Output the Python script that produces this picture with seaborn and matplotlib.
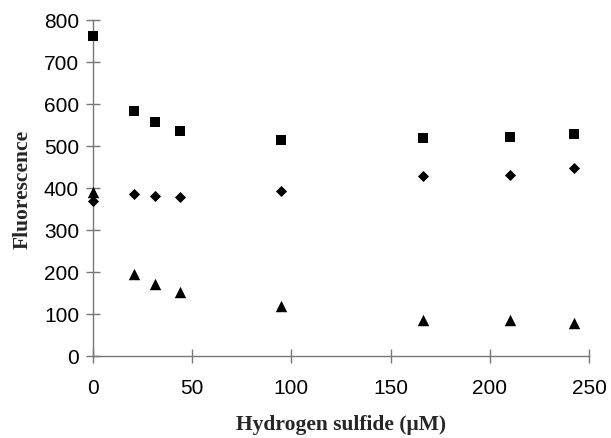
import matplotlib
matplotlib.use("Agg")
import matplotlib.pyplot as plt
import seaborn as sns
import pandas as pd

h2s = [0, 20.8, 31.2, 43.6, 94.8, 166.3, 210.0, 242.4]
squares = [761, 584, 556, 536, 514, 518, 522, 528]
diamonds = [370, 386, 380, 379, 394, 429, 432, 447]
triangles = [390, 195, 171, 153, 118, 86, 86, 78]

x_ticks = [0, 50, 100, 150, 200, 250]
y_ticks = [0, 100, 200, 300, 400, 500, 600, 700, 800]

sns.set_theme(style="white")
plt.rcParams['font.family'] = ['Liberation Sans', 'DejaVu Sans']

fig = plt.figure(figsize=(6.11, 4.39), dpi=100)
ax = fig.add_axes([93/611, 1-357/439, (589-93)/611, (357-21)/439])

df_sq = pd.DataFrame({"x": h2s, "y": squares})
df_di = pd.DataFrame({"x": h2s, "y": diamonds})
df_tr = pd.DataFrame({"x": h2s, "y": triangles})

sns.scatterplot(data=df_sq, x="x", y="y", marker="s", s=62, color="black", edgecolor="black", linewidth=0, ax=ax, zorder=3, clip_on=False)
sns.scatterplot(data=df_di, x="x", y="y", marker="D", s=32, color="black", edgecolor="black", linewidth=0, ax=ax, zorder=3, clip_on=False)
sns.scatterplot(data=df_tr, x="x", y="y", marker="^", s=68, color="black", edgecolor="black", linewidth=0, ax=ax, zorder=3, clip_on=False)

ax.set_xlim(0, 250)
ax.set_ylim(0, 800)
ax.set_xticks(x_ticks)
ax.set_yticks(y_ticks)
ax.tick_params(axis='both', bottom=True, left=True, direction='inout', length=10, width=1,
               color='#777777', labelsize=15, labelcolor='black')
ax.tick_params(axis='x', pad=11)
ax.tick_params(axis='y', pad=5)

for side in ['top', 'right']:
    ax.spines[side].set_visible(False)
for side in ['left', 'bottom']:
    ax.spines[side].set_color('#777777')
    ax.spines[side].set_linewidth(1)

serif = ['Liberation Serif', 'DejaVu Serif']
ax.set_xlabel("Hydrogen sulfide (\u03bcM)", fontfamily=serif, fontweight='bold', fontsize=15.5, labelpad=12)
ax.set_ylabel("Fluorescence", fontfamily=serif, fontweight='bold', fontsize=15.5, labelpad=8)

fig.savefig("out.png", dpi=100)
